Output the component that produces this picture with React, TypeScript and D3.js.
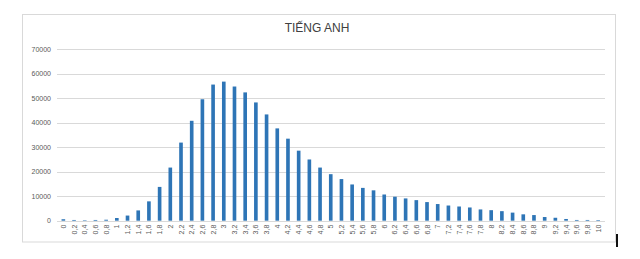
import React from "react";
import * as d3 from "d3";

const categories: number[] = d3.range(0, 51).map((i) => Math.round(i * 2) / 10);
const values: number[] = [
  600, 300, 200, 300, 400, 1100, 2100, 4200, 7900, 13800,
  21700, 31900, 40800, 49600, 55600, 56800, 54800, 52400, 48300, 43400,
  37700, 33500, 28600, 25000, 21700, 19000, 17000, 14800, 13400, 12400,
  10700, 9800, 9100, 8400, 7600, 6800, 6200, 5800, 5400, 4600,
  4300, 3900, 3300, 2600, 2300, 1500, 1200, 700, 300, 300,
  250,
];
const yTicks: number[] = [0, 10000, 20000, 30000, 40000, 50000, 60000, 70000];
const title = "TIẾNG ANH";

export default function App() {
  const W = 640;
  const H = 259;
  const left = 58;
  const right = 603.5;
  const top = 49.3;
  const bottom = 220.7;
  const labels = categories.map((c) => String(c).replace(".", ","));
  const x = d3.scaleBand<string>().domain(labels).range([left, right]).paddingInner(0.66).paddingOuter(0.33);
  const y = d3.scaleLinear().domain([0, 70000]).range([bottom, top]);
  const font = "'Liberation Sans', Arial, sans-serif";
  return (
    <div style={{ position: "fixed", left: 0, top: 0 }}>
      <svg width={W} height={H} style={{ display: "block", background: "#fff" }}>
        <rect x={22.5} y={14.5} width={593} height={227.5} fill="#fff" stroke="#d9d9d9" strokeWidth={1} />
        <text x={317} y={32} textAnchor="middle" fontFamily={font} fontSize={12} fill="#404040">
          {title}
        </text>
        {yTicks.map((t) => (
          <g key={t}>
            {t > 0 && (
              <line x1={57} x2={605} y1={Math.round(y(t)) + 0.5} y2={Math.round(y(t)) + 0.5} stroke="#d9d9d9" strokeWidth={1} />
            )}
            <text x={51} y={y(t) + 2.5} textAnchor="end" fontFamily={font} fontSize={7} fill="#595959">
              {t}
            </text>
          </g>
        ))}
        <line x1={57} x2={605} y1={Math.round(bottom) + 0.5} y2={Math.round(bottom) + 0.5} stroke="#d9d9d9" strokeWidth={1} />
        {values.map((v, i) => (
          <rect
            key={i}
            x={x(labels[i])!}
            y={y(v)}
            width={x.bandwidth()}
            height={bottom - y(v)}
            fill="#2e75b6"
          />
        ))}
        {labels.map((l) => {
          const cx = x(l)! + x.bandwidth() / 2;
          return (
            <text
              key={l}
              transform={`translate(${cx + 2.5},${bottom + 4}) rotate(-90)`}
              textAnchor="end"
              fontFamily={font}
              fontSize={7}
              fill="#595959"
            >
              {l}
            </text>
          );
        })}
        <rect x={616} y={234} width={2} height={13} fill="#111" />
      </svg>
    </div>
  );
}
